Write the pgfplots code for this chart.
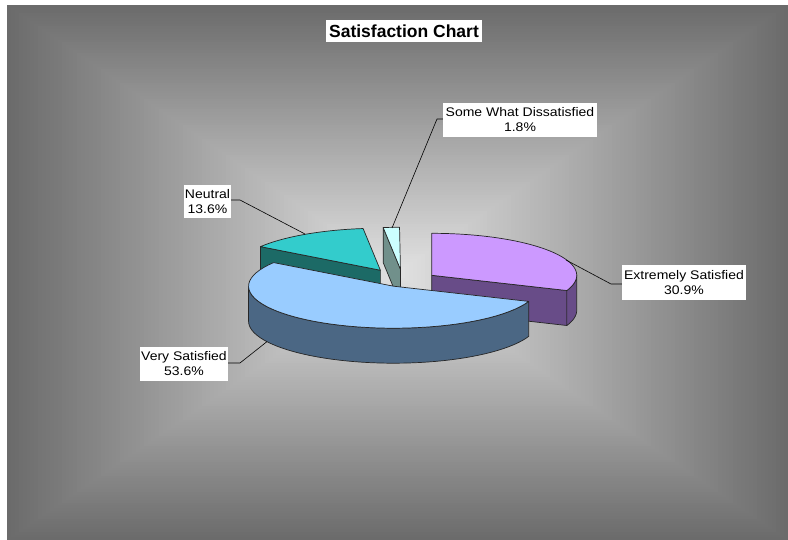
\documentclass[border=0pt]{standalone}
\usepackage{pgfplots}
\usepackage{pgfplotstable}
\usepackage{fontspec}
\pgfplotsset{compat=1.18}
\setmainfont{Liberation Sans}
\newfontfamily\labelfont[FakeStretch=1.12]{Liberation Sans}

\definecolor{bgedge}{HTML}{6B6B6B}
\definecolor{bgcentre}{HTML}{E2E2E2}
\definecolor{purpleTop}{HTML}{CC99FF}
\definecolor{purpleSide}{HTML}{684C88}
\definecolor{blueTop}{HTML}{99CCFF}
\definecolor{blueSide}{HTML}{4B6784}
\definecolor{tealTop}{HTML}{33CCCC}
\definecolor{tealSide}{HTML}{1C6A66}
\definecolor{cyanTop}{HTML}{CCFFFF}
\definecolor{cyanSide}{HTML}{71908B}

\tikzset{pieedge/.style={draw=black!85, line width=0.7pt, line join=round}}

% shares in percent and how far each slice is pulled out
\pgfplotstableread{
share explode
30.9 0.24
53.6 0.14
13.6 0.30
1.8  0.28
}\satisfaction

\pgfplotstablegetelem{0}{share}\of\satisfaction \let\shareA\pgfplotsretval
\pgfplotstablegetelem{1}{share}\of\satisfaction \let\shareB\pgfplotsretval
\pgfplotstablegetelem{2}{share}\of\satisfaction \let\shareC\pgfplotsretval
\pgfplotstablegetelem{3}{share}\of\satisfaction \let\shareD\pgfplotsretval
\pgfplotstablegetelem{0}{explode}\of\satisfaction \let\explA\pgfplotsretval
\pgfplotstablegetelem{1}{explode}\of\satisfaction \let\explB\pgfplotsretval
\pgfplotstablegetelem{2}{explode}\of\satisfaction \let\explC\pgfplotsretval
\pgfplotstablegetelem{3}{explode}\of\satisfaction \let\explD\pgfplotsretval

% pie geometry (angles clockwise from 12 o'clock)
\newcommand\pieR{145}
\newcommand\pier{42}
\newcommand\pieD{35}
\newcommand\pieX{403}
\newcommand\pieY{281}

\newcommand\piewall[2]{% radial cut face at angle #1
  \pgfmathsetmacro\wx{\pcx+\pieR*sin(#1)}%
  \pgfmathsetmacro\wy{\pcy-\pier*cos(#1)}%
  \pgfmathsetmacro\wyb{\wy+\pieD}%
  \pgfmathsetmacro\pcyb{\pcy+\pieD}%
  \filldraw[fill=#2, pieedge] (axis cs:\pcx,\pcy) -- (axis cs:\wx,\wy)
     -- (axis cs:\wx,\wyb) -- (axis cs:\pcx,\pcyb) -- cycle;%
}

\newcommand\pieslice[5]{% start, end, explode, top colour, side colour
  \pgfmathsetmacro\pmid{(#1+#2)/2}%
  \pgfmathsetmacro\pcx{\pieX+#3*\pieR*sin(\pmid)}%
  \pgfmathsetmacro\pcy{\pieY-#3*\pier*cos(\pmid)}%
  \pgfmathtruncatemacro\showstart{sin(#1)<-0.001}%
  \pgfmathtruncatemacro\showend{sin(#2)>0.001}%
  \ifnum\showstart=1 \piewall{#1}{#5}\fi
  \ifnum\showend=1 \piewall{#2}{#5}\fi
  \pgfmathsetmacro\sidea{max(#1,90)}%
  \pgfmathsetmacro\sideb{min(#2,270)}%
  \pgfmathtruncatemacro\showside{\sidea<\sideb}%
  \ifnum\showside=1
    \filldraw[fill=#5, pieedge]
      plot[domain=\sidea:\sideb, samples=50, variable=\ang]
        (axis cs:{\pcx+\pieR*sin(\ang)},{\pcy-\pier*cos(\ang)})
      -- plot[domain=\sideb:\sidea, samples=50, variable=\ang]
        (axis cs:{\pcx+\pieR*sin(\ang)},{\pcy-\pier*cos(\ang)+\pieD}) -- cycle;%
  \fi
  \filldraw[fill=#4, pieedge] (axis cs:\pcx,\pcy)
    -- plot[domain=#1:#2, samples=50, variable=\ang]
       (axis cs:{\pcx+\pieR*sin(\ang)},{\pcy-\pier*cos(\ang)}) -- cycle;%
}

\begin{document}
\pgfmathsetmacro\angA{0}%
\pgfmathsetmacro\angB{\angA+3.6*\shareA}%
\pgfmathsetmacro\angC{\angB+3.6*\shareB}%
\pgfmathsetmacro\angD{\angC+3.6*\shareC}%
\pgfmathsetmacro\angE{\angD+3.6*\shareD}%
\begin{tikzpicture}
\begin{axis}[
  width=788pt, height=540pt, scale only axis,
  xmin=0, xmax=788, ymin=0, ymax=540, y dir=reverse,
  hide axis, clip=false]
\pgfplotsextra{%
  \coordinate (pageTL) at (axis cs:0,0);
  \coordinate (pageBR) at (axis cs:788,540);
  % page, then a rectangular gradient from the panel edge to its centre
  \fill[white] (axis cs:0,0) rectangle (axis cs:788,540);
  \foreach \k in {0,...,99}{%
    \pgfmathsetmacro\fr{\k/100}%
    \pgfmathsetmacro\pct{100*\fr}%
    \pgfmathsetmacro\xa{7+\fr*390.5}%
    \pgfmathsetmacro\xb{788-\fr*390.5}%
    \pgfmathsetmacro\ya{5+\fr*267.5}%
    \pgfmathsetmacro\yb{540-\fr*267.5}%
    \fill[bgcentre!\pct!bgedge] (axis cs:\xa,\ya) rectangle (axis cs:\xb,\yb);
  }

  % slices, back to front
  \pieslice{\angC}{\angD}{\explC}{tealTop}{tealSide}%
  \pieslice{\angD}{\angE}{\explD}{cyanTop}{cyanSide}%
  \pieslice{\angA}{\angB}{\explA}{purpleTop}{purpleSide}%
  \pieslice{\angB}{\angC}{\explB}{blueTop}{blueSide}%

  % leader lines
  \draw[black, line width=0.6pt] (axis cs:443,119) -- (axis cs:437,119) -- (axis cs:392,228);
  \draw[black, line width=0.6pt] (axis cs:231,200) -- (axis cs:240,200) -- (axis cs:305,234);
  \draw[black, line width=0.6pt] (axis cs:228,363) -- (axis cs:240,363) -- (axis cs:267,341.6);
  \draw[black, line width=0.6pt] (axis cs:622,284) -- (axis cs:611,284) -- (axis cs:566,260);

  % title and data labels
  \node[fill=white, inner sep=0pt, minimum width=156pt, minimum height=22pt,
        font=\bfseries\fontsize{17.5}{20}\selectfont]
    at (axis cs:404,31) {Satisfaction Chart};
  \node[fill=white, inner sep=1pt, minimum width=154pt, minimum height=34pt, align=center,
        font=\labelfont\fontsize{12.5}{15}\selectfont]
    at (axis cs:520,120) {Some What Dissatisfied\\1.8\%};
  \node[fill=white, inner sep=1pt, minimum width=46pt, minimum height=33pt, align=center,
        font=\labelfont\fontsize{12.5}{15}\selectfont]
    at (axis cs:207.5,201.5) {Neutral\\13.6\%};
  \node[fill=white, inner sep=1pt, minimum width=88pt, minimum height=34pt, align=center,
        font=\labelfont\fontsize{12.5}{15}\selectfont]
    at (axis cs:184,364) {Very Satisfied\\53.6\%};
  \node[fill=white, inner sep=1pt, minimum width=124pt, minimum height=35pt, align=center,
        font=\labelfont\fontsize{12.5}{15}\selectfont]
    at (axis cs:684,282.5) {Extremely Satisfied\\30.9\%};
}
\end{axis}
\pgfresetboundingbox
\path[use as bounding box] (pageTL) rectangle (pageBR);
\end{tikzpicture}
\end{document}
